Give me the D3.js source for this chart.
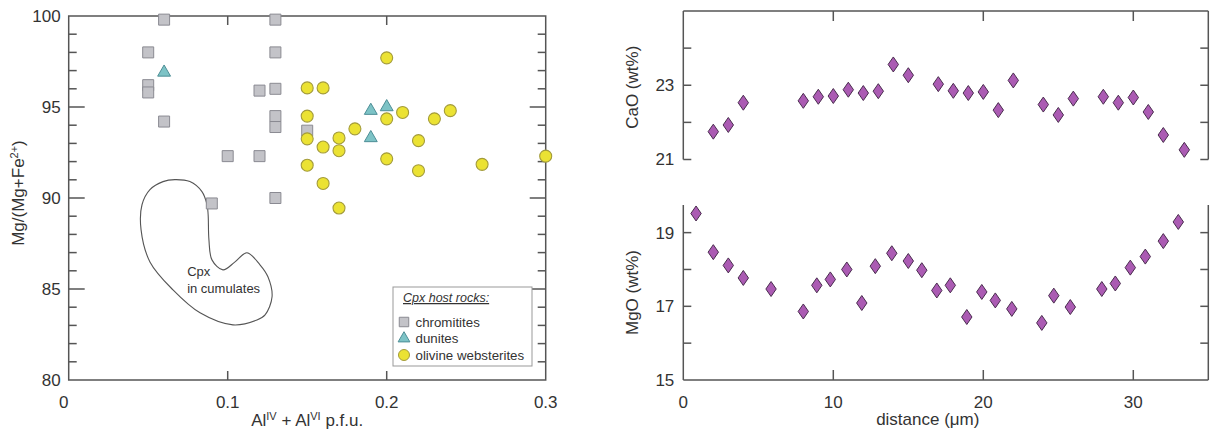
<!DOCTYPE html>
<html>
<head>
<meta charset="utf-8">
<script src="https://cdn.jsdelivr.net/npm/d3@7"></script>
<style>
  html, body { margin: 0; padding: 0; background: #fff; }
  svg { display: block; font-family: "Liberation Sans", Arial, sans-serif; }
</style>
</head>
<body>
<svg id="chart" width="1210" height="432"></svg>
<script>
// ---- Left panel: Cpx compositions, Mg# vs total Al ----
const chromititesAl = [0.06, 0.13, 0.05, 0.13, 0.05, 0.05, 0.12, 0.13, 0.06, 0.13, 0.13, 0.10, 0.12, 0.09, 0.13, 0.15];
const chromititesMg = [99.8, 99.8, 98.0, 98.0, 96.2, 95.8, 95.9, 96.0, 94.2, 94.5, 93.9, 92.3, 92.3, 89.7, 90.0, 93.7];

const dunitesAl = [0.06, 0.19, 0.20, 0.19];
const dunitesMg = [96.9, 94.8, 95.0, 93.3];

const websteritesAl = [0.20, 0.15, 0.16, 0.15, 0.21, 0.20, 0.23, 0.24, 0.18, 0.15, 0.17, 0.16, 0.17, 0.22, 0.20, 0.15, 0.22, 0.26, 0.30, 0.16, 0.17];
const websteritesMg = [97.7, 96.05, 96.05, 94.5, 94.7, 94.35, 94.35, 94.8, 93.8, 93.25, 93.3, 92.8, 92.6, 93.15, 92.15, 91.8, 91.5, 91.85, 92.3, 90.8, 89.45];

// outline of the field of Cpx in cumulates (Al, Mg#)
const cumulateFieldAl = [0.0877, 0.0882, 0.0901, 0.0970, 0.1046, 0.1121, 0.1203, 0.1253, 0.1279, 0.1235, 0.1184, 0.1033, 0.0826, 0.0656, 0.0511, 0.0455, 0.0461, 0.0511, 0.0593, 0.0668, 0.0762, 0.0838, 0.0870];
const cumulateFieldMg = [89.08, 87.70, 86.60, 86.05, 86.49, 86.99, 86.33, 85.67, 84.57, 83.58, 83.30, 83.03, 83.69, 84.95, 86.49, 88.26, 89.63, 90.46, 90.90, 91.01, 90.90, 90.35, 89.63];

const alTicks = [0, 0.1, 0.2, 0.3];
const mgTicks = [80, 85, 90, 95, 100];

// ---- Right panel: core-to-rim profile ----
const caoDistance = [2, 3, 4, 8, 9, 10, 11, 12, 13, 14, 15, 17, 18, 19, 20, 21, 22, 24, 25, 26, 28, 29, 30, 31, 32, 33.4];
const caoValues = [21.75, 21.93, 22.53, 22.58, 22.69, 22.71, 22.88, 22.79, 22.84, 23.56, 23.27, 23.03, 22.85, 22.79, 22.82, 22.33, 23.13, 22.48, 22.20, 22.64, 22.69, 22.53, 22.67, 22.28, 21.66, 21.26];

const mgoDistance = [0.85, 2, 3, 4, 5.85, 8, 8.9, 9.8, 10.9, 11.9, 12.8, 13.9, 15, 15.9, 16.9, 17.8, 18.9, 19.9, 20.8, 21.9, 23.9, 24.7, 25.8, 27.9, 28.8, 29.8, 30.8, 32, 33];
const mgoValues = [19.52, 18.47, 18.11, 17.77, 17.47, 16.86, 17.57, 17.73, 18.0, 17.09, 18.09, 18.44, 18.23, 17.98, 17.43, 17.57, 16.71, 17.39, 17.16, 16.93, 16.55, 17.29, 16.98, 17.47, 17.62, 18.05, 18.35, 18.77, 19.29];

const distanceTicks = [0, 10, 20, 30];
const caoTicks = [21, 23];
const mgoTicks = [15, 17, 19];

const svg = d3.select("#chart");
const axisColor = "#555";
const textColor = "#333";

// ===================== Left panel =====================
const x1 = d3.scaleLinear().domain([0, 0.3]).range([68.7, 545.7]);
const y1 = d3.scaleLinear().domain([80, 100]).range([380, 16]);

const left = svg.append("g");

// frame
left.append("rect")
  .attr("x", x1(0)).attr("y", y1(100))
  .attr("width", x1(0.3) - x1(0)).attr("height", y1(80) - y1(100))
  .attr("fill", "none").attr("stroke", axisColor).attr("stroke-width", 1.5);

// inward y ticks, left and right
const mgAll = d3.range(81, 100);
left.selectAll(".ytl").data(mgAll).join("line")
  .attr("x1", x1(0)).attr("x2", d => x1(0) + (d % 5 === 0 ? 16 : 8))
  .attr("y1", d => y1(d)).attr("y2", d => y1(d))
  .attr("stroke", axisColor).attr("stroke-width", 1.5);
left.selectAll(".ytr").data(mgAll).join("line")
  .attr("x1", x1(0.3)).attr("x2", d => x1(0.3) - (d % 5 === 0 ? 16 : 8))
  .attr("y1", d => y1(d)).attr("y2", d => y1(d))
  .attr("stroke", axisColor).attr("stroke-width", 1.5);

// inward x ticks, top and bottom
[0.1, 0.2].forEach(t => {
  left.append("line").attr("x1", x1(t)).attr("x2", x1(t))
    .attr("y1", y1(100)).attr("y2", y1(100) + 9)
    .attr("stroke", axisColor).attr("stroke-width", 1.5);
  left.append("line").attr("x1", x1(t)).attr("x2", x1(t))
    .attr("y1", y1(80)).attr("y2", y1(80) - 9)
    .attr("stroke", axisColor).attr("stroke-width", 1.5);
});

// tick labels
left.selectAll(".ylab").data(mgTicks).join("text")
  .attr("x", x1(0) - 8).attr("y", d => y1(d)).attr("dy", "0.35em")
  .attr("text-anchor", "end").attr("font-size", 17).attr("fill", textColor)
  .text(d => d);
left.selectAll(".xlab").data(alTicks).join("text")
  .attr("x", d => x1(d) - (d === 0 ? 5 : 0)).attr("y", 408)
  .attr("text-anchor", "middle").attr("font-size", 17).attr("fill", textColor)
  .text(d => d === 0 ? "0" : d3.format(".1f")(d));

// axis titles
const xt = left.append("text")
  .attr("x", (x1(0) + x1(0.3)) / 2).attr("y", 426)
  .attr("text-anchor", "middle").attr("font-size", 17).attr("fill", textColor);
xt.append("tspan").text("Al");
xt.append("tspan").attr("font-size", 11).attr("dy", -6).text("IV");
xt.append("tspan").attr("dy", 6).text(" + Al");
xt.append("tspan").attr("font-size", 11).attr("dy", -6).text("VI");
xt.append("tspan").attr("dy", 6).text(" p.f.u.");

const yt = left.append("text")
  .attr("transform", `translate(24, ${(y1(80) + y1(100)) / 2 - 5}) rotate(-90)`)
  .attr("text-anchor", "middle").attr("font-size", 17).attr("fill", textColor);
yt.append("tspan").text("Mg/(Mg+Fe");
yt.append("tspan").attr("font-size", 11).attr("dy", -6).text("2+");
yt.append("tspan").attr("dy", 6).text(")");

// cumulate field outline
const fieldPts = cumulateFieldAl.map((a, i) => [x1(a), y1(cumulateFieldMg[i])]);
left.append("path")
  .attr("d", d3.line().curve(d3.curveCatmullRomClosed.alpha(0.5))(fieldPts))
  .attr("fill", "none").attr("stroke", "#555").attr("stroke-width", 1.1);
left.append("text").attr("x", x1(0.0745)).attr("y", y1(85.7))
  .attr("font-size", 13).attr("fill", textColor).text("Cpx");
left.append("text").attr("x", x1(0.0745)).attr("y", y1(84.8))
  .attr("font-size", 13).attr("fill", textColor).text("in cumulates");

// symbols
const sqFill = "#c3c3c8", sqStroke = "#8a8a92";
const trFill = "#7dc3c6", trStroke = "#4d8e96";
const ciFill = "#ebe233", ciStroke = "#a39b3a";

const chromitites = chromititesAl.map((a, i) => ({ a, m: chromititesMg[i] }));
const dunites = dunitesAl.map((a, i) => ({ a, m: dunitesMg[i] }));
const websterites = websteritesAl.map((a, i) => ({ a, m: websteritesMg[i] }));

left.selectAll(".sq").data(chromitites).join("path")
  .attr("d", d3.symbol(d3.symbolSquare, 121))
  .attr("transform", d => `translate(${x1(d.a)},${y1(d.m)})`)
  .attr("fill", sqFill).attr("stroke", sqStroke).attr("stroke-width", 1);
left.selectAll(".tr").data(dunites).join("path")
  .attr("d", d3.symbol(d3.symbolTriangle, 72))
  .attr("transform", d => `translate(${x1(d.a)},${y1(d.m)})`)
  .attr("fill", trFill).attr("stroke", trStroke).attr("stroke-width", 1);
left.selectAll(".ci").data(websterites).join("path")
  .attr("d", d3.symbol(d3.symbolCircle, 113))
  .attr("transform", d => `translate(${x1(d.a)},${y1(d.m)})`)
  .attr("fill", ciFill).attr("stroke", ciStroke).attr("stroke-width", 1.1);

// legend
const lg = left.append("g");
lg.append("rect").attr("x", 393).attr("y", 287).attr("width", 139).attr("height", 79)
  .attr("fill", "#fff").attr("stroke", "#999").attr("stroke-width", 1);
lg.append("text").attr("x", 403).attr("y", 302)
  .attr("font-size", 12.5).attr("font-style", "italic")
  .attr("text-decoration", "underline").attr("fill", textColor)
  .text("Cpx host rocks:");
const legendItems = [
  { label: "chromitites", sym: d3.symbolSquare, size: 90, fill: sqFill, stroke: sqStroke, y: 322 },
  { label: "dunites", sym: d3.symbolTriangle, size: 60, fill: trFill, stroke: trStroke, y: 338.5 },
  { label: "olivine websterites", sym: d3.symbolCircle, size: 95, fill: ciFill, stroke: ciStroke, y: 355 }
];
legendItems.forEach(it => {
  lg.append("path").attr("d", d3.symbol(it.sym, it.size))
    .attr("transform", `translate(404,${it.y})`)
    .attr("fill", it.fill).attr("stroke", it.stroke).attr("stroke-width", 1);
  lg.append("text").attr("x", 415.5).attr("y", it.y).attr("dy", "0.35em")
    .attr("font-size", 13.3).attr("fill", textColor).text(it.label);
});

// ===================== Right panel =====================
const x2 = d3.scaleLinear().domain([0, 35]).range([683.3, 1208.3]);
const yCa = d3.scaleLinear().domain([21, 25]).range([159.5, 11]);
const yMg = d3.scaleLinear().domain([15, 19.75]).range([380, 205]);

const right = svg.append("g");
const line = (xa, ya, xb, yb) => right.append("line")
  .attr("x1", xa).attr("y1", ya).attr("x2", xb).attr("y2", yb)
  .attr("stroke", axisColor).attr("stroke-width", 1.5);

// CaO frame: top + both sides
line(x2(0), yCa(25), x2(35), yCa(25));
line(x2(0), yCa(25), x2(0), yCa(21));
line(x2(35), yCa(25), x2(35), yCa(21));
// MgO frame: bottom + both sides
line(x2(0), yMg(15), x2(35), yMg(15));
line(x2(0), yMg(15), x2(0), yMg(19.75));
line(x2(35), yMg(15), x2(35), yMg(19.75));

// y ticks (inward on both sides)
[21, 22, 23, 24].forEach(t => {
  line(x2(0), yCa(t), x2(0) + 8, yCa(t));
  line(x2(35), yCa(t), x2(35) - 8, yCa(t));
});
[16, 17, 18, 19].forEach(t => {
  line(x2(0), yMg(t), x2(0) + 8, yMg(t));
  line(x2(35), yMg(t), x2(35) - 8, yMg(t));
});
// x ticks top and bottom
[10, 20, 30].forEach(t => {
  line(x2(t), yCa(25), x2(t), yCa(25) + 10);
  line(x2(t), yMg(15), x2(t), yMg(15) - 10);
});

// tick labels
right.selectAll(".cal").data(caoTicks).join("text")
  .attr("x", x2(0) - 9).attr("y", d => yCa(d)).attr("dy", "0.35em")
  .attr("text-anchor", "end").attr("font-size", 17).attr("fill", textColor).text(d => d);
right.selectAll(".mgl").data(mgoTicks).join("text")
  .attr("x", x2(0) - 9).attr("y", d => yMg(d)).attr("dy", "0.35em")
  .attr("text-anchor", "end").attr("font-size", 17).attr("fill", textColor).text(d => d);
right.selectAll(".dl").data(distanceTicks).join("text")
  .attr("x", d => x2(d)).attr("y", 408)
  .attr("text-anchor", "middle").attr("font-size", 17).attr("fill", textColor).text(d => d);

// titles
right.append("text").attr("x", (x2(0) + x2(35)) / 2 - 18).attr("y", 425)
  .attr("text-anchor", "middle").attr("font-size", 17).attr("fill", textColor)
  .text("distance (\u03bcm)");
right.append("text")
  .attr("transform", `translate(638, ${(yCa(21) + yCa(25)) / 2 + 2}) rotate(-90)`)
  .attr("text-anchor", "middle").attr("font-size", 17).attr("fill", textColor)
  .text("CaO (wt%)");
right.append("text")
  .attr("transform", `translate(638, ${(yMg(15) + yMg(19.75)) / 2}) rotate(-90)`)
  .attr("text-anchor", "middle").attr("font-size", 17).attr("fill", textColor)
  .text("MgO (wt%)");

// diamond markers
const diamond = "M0,-7.5L5.2,0L0,7.5L-5.2,0Z";
const dmFill = "#ab5bb3", dmStroke = "#4a2d4f";
const caoPts = caoDistance.map((d, i) => ({ d, v: caoValues[i] }));
const mgoPts = mgoDistance.map((d, i) => ({ d, v: mgoValues[i] }));
right.selectAll(".ca").data(caoPts).join("path")
  .attr("d", diamond)
  .attr("transform", p => `translate(${x2(p.d)},${yCa(p.v)})`)
  .attr("fill", dmFill).attr("stroke", dmStroke).attr("stroke-width", 1);
right.selectAll(".mg").data(mgoPts).join("path")
  .attr("d", diamond)
  .attr("transform", p => `translate(${x2(p.d)},${yMg(p.v)})`)
  .attr("fill", dmFill).attr("stroke", dmStroke).attr("stroke-width", 1);
</script>
</body>
</html>
